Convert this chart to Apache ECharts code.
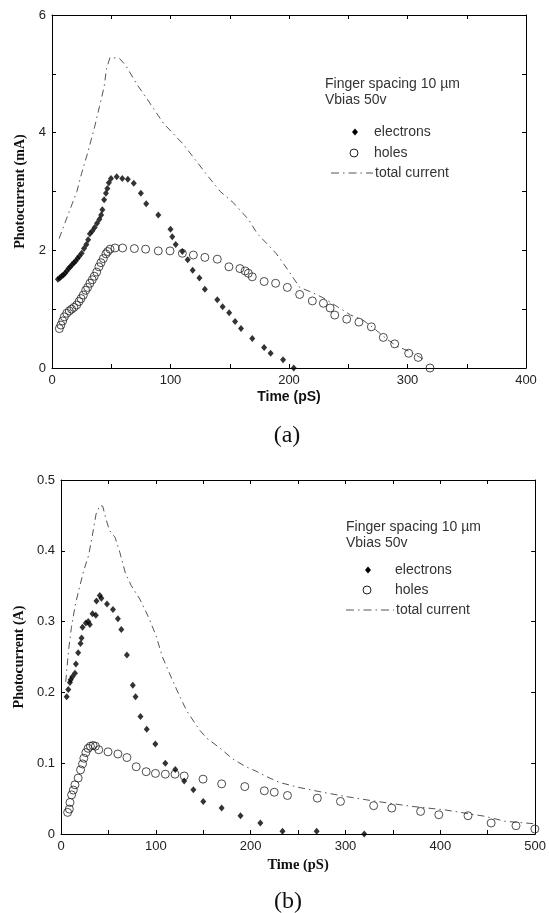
<!DOCTYPE html>
<html>
<head>
<meta charset="utf-8">
<script src="https://cdn.jsdelivr.net/npm/echarts@6/dist/echarts.min.js"></script>
<style>
  html, body { margin: 0; padding: 0; background: #fff; }
  #chart { width: 549px; height: 913px; }
</style>
</head>
<body>
<div id="chart"></div>
<script>
// (a) photocurrent in mA vs time in pS
const electronsA = [[5,1.51],[6.5,1.53],[8,1.56],[9.5,1.58],[11,1.61],[12.5,1.65],[14,1.69],[15.5,1.72],[17,1.76],[18.5,1.79],[20,1.82],[21.5,1.86],[23,1.9],[25,1.95],[27,2.03],[29,2.1],[30.5,2.18],[32,2.28],[34,2.33],[36,2.39],[38,2.46],[40,2.53],[41.5,2.6],[42.5,2.69],[44,2.86],[45.5,2.97],[46.7,3.05],[48,3.15],[49.8,3.22],[54.6,3.25],[59.3,3.22],[64,3.21],[69,3.14],[75,2.97],[79.5,2.79],[89.7,2.6],[100,2.36],[101.5,2.23],[104.4,2.1],[110,1.98],[114.5,1.84],[118.7,1.66],[124.4,1.53],[129,1.34],[139.5,1.16],[144,1.04],[149.5,0.94],[154.5,0.79],[159.5,0.67],[169,0.5],[179,0.35],[184.5,0.25],[195,0.14],[204,0]];
const holesA = [[6.2,0.67],[7.5,0.73],[9,0.8],[10.4,0.87],[12.4,0.93],[14.6,0.97],[16.5,1.0],[18.5,1.03],[20.8,1.07],[22.8,1.13],[24.5,1.18],[26.4,1.24],[28.4,1.32],[30.1,1.37],[32,1.44],[34,1.5],[35.7,1.56],[37.7,1.63],[39.6,1.72],[41.3,1.79],[43.3,1.86],[45.5,1.94],[47,1.98],[49,2.02],[53.2,2.04],[59.6,2.04],[69.5,2.03],[79,2.02],[89.7,1.99],[99.6,1.99],[110,1.95],[119.3,1.92],[129,1.88],[139.5,1.85],[149.3,1.72],[158.6,1.69],[163,1.65],[165.7,1.61],[169,1.55],[179,1.47],[188.7,1.44],[198.6,1.37],[209,1.25],[219.7,1.14],[229,1.1],[234.7,1.02],[238.6,0.9],[248.7,0.83],[259,0.78],[269.5,0.7],[279.6,0.52],[289.2,0.41],[301,0.25],[309,0.18],[319,0]];
const totalA = [[6,2.2],[14,2.63],[21,3.0],[25,3.31],[30,3.65],[36,4.1],[40,4.44],[44,4.78],[46,5.09],[49,5.28],[57,5.26],[62,5.15],[72,4.81],[80,4.58],[94,4.16],[102,3.99],[110,3.82],[119,3.59],[132,3.25],[142,3.0],[153,2.81],[166,2.52],[173,2.29],[181,2.12],[189,1.95],[199,1.67],[209,1.37],[220,1.28],[230,1.18],[241,1.04],[252,0.9],[262,0.82],[272,0.67],[282,0.5],[291,0.37],[303,0.27],[315,0.13]];
const xLabelsA = [0, 100, 200, 300, 400];
const yLabelsA = [0, 2, 4, 6];

// (b) photocurrent in A vs time in pS
const electronsB = [[6,0.194],[7.7,0.204],[9.4,0.214],[10.2,0.218],[12,0.222],[14.7,0.227],[15.7,0.24],[18.1,0.256],[20.6,0.269],[21.7,0.277],[22.7,0.292],[26.2,0.298],[28.7,0.3],[30.4,0.296],[33.2,0.311],[36.7,0.309],[37.4,0.329],[40.9,0.337],[42.6,0.333],[48.5,0.325],[54.8,0.317],[60,0.304],[63.6,0.289],[69.5,0.253],[75.7,0.21],[78.6,0.194],[83.8,0.166],[90.4,0.148],[99.5,0.127],[110,0.1],[120.5,0.091],[129.9,0.075],[139.6,0.0625],[150,0.046],[169.4,0.0366],[189.3,0.0258],[210.2,0.0155],[233.6,0.004],[269.6,0.004],[319.8,0]];
const holesB = [[7,0.0305],[8.8,0.0352],[9.5,0.0446],[11.2,0.0553],[13,0.062],[14.7,0.0695],[18.1,0.079],[20.6,0.0906],[22.7,0.099],[24.1,0.107],[26.2,0.115],[28.6,0.121],[31,0.124],[33.8,0.125],[36.3,0.124],[39.8,0.119],[49.6,0.116],[60,0.113],[69.5,0.108],[79.3,0.095],[89.8,0.088],[99.6,0.0856],[110,0.0845],[120.2,0.0845],[129.9,0.082],[149.8,0.0775],[169.4,0.0708],[193.8,0.067],[214.4,0.061],[224.9,0.059],[238.8,0.0544],[270.3,0.0507],[294.7,0.046],[329.7,0.04],[348.8,0.0366],[379.2,0.0319],[398.4,0.0272],[429.2,0.0258],[453.6,0.0155],[479.8,0.0117],[499.7,0.007]];
const totalB = [[5,0.215],[8,0.26],[11,0.292],[15,0.323],[19,0.346],[24,0.372],[29,0.393],[33,0.421],[37,0.452],[41,0.464],[44,0.463],[47,0.447],[51,0.429],[57,0.419],[62,0.398],[68,0.368],[74,0.351],[83,0.332],[92,0.307],[100,0.281],[107,0.25],[114,0.228],[119,0.213],[126,0.192],[133,0.173],[146,0.147],[154,0.135],[168,0.121],[180,0.107],[195,0.095],[207,0.088],[217,0.081],[230,0.073],[250,0.066],[272,0.06],[300,0.053],[328,0.047],[370,0.039],[405,0.034],[447,0.025],[468,0.018],[499,0.0145]];
const xLabelsB = [0, 100, 200, 300, 400, 500];
const yLabelsB = [0, 0.1, 0.2, 0.3, 0.4, 0.5];

const SANS = '"Liberation Sans", Arial, sans-serif';
const SERIF = '"Liberation Serif", "Times New Roman", serif';
const INK = '#222';
const CURVE = '#555';
const DASHDOT = [7, 4, 1.5, 4];

function near(v, list) {
  return list.some(t => Math.abs(t - v) < 1e-6);
}

function boxAxis(gridIndex, min, max, interval, position, labels, fmt, extra) {
  const base = {
    gridIndex, type: 'value', min, max, interval, position,
    axisLine: { show: true, onZero: false, lineStyle: { color: '#000', width: 1 } },
    axisTick: { show: true, inside: true, length: 4, lineStyle: { color: '#000', width: 1 } },
    splitLine: { show: false },
    axisLabel: labels ? {
      show: true, margin: 6, color: INK, fontFamily: SANS, fontSize: 13,
      formatter: v => near(v, labels) ? fmt(v) : ''
    } : { show: false }
  };
  return Object.assign(base, extra || {});
}

const fmtInt = v => String(Math.round(v));
const fmtTenth = v => (Math.abs(v) < 1e-9 ? '0' : v.toFixed(1));

function legendBlock(x0, yTitle, markerX, textX, yRows, lineX1) {
  const font = '14px ' + SANS;
  const txt = (x, y, s) => ({ type: 'text', x, y, silent: true,
    style: { text: s, font, fill: '#333', align: 'left', verticalAlign: 'middle' } });
  return [
    txt(x0, yTitle, 'Finger spacing 10 µm'),
    txt(x0, yTitle + 16, 'Vbias 50v'),
    { type: 'polygon', silent: true,
      shape: { points: [[markerX, yRows[0] - 3.5], [markerX + 3, yRows[0]], [markerX, yRows[0] + 3.5], [markerX - 3, yRows[0]]] },
      style: { fill: '#000' } },
    txt(textX, yRows[0], 'electrons'),
    { type: 'circle', silent: true, shape: { cx: markerX - 1, cy: yRows[1], r: 4 },
      style: { fill: 'none', stroke: INK, lineWidth: 1 } },
    txt(textX, yRows[1], 'holes'),
    { type: 'line', silent: true, shape: { x1: lineX1, y1: yRows[2], x2: textX - 1, y2: yRows[2] },
      style: { stroke: CURVE, lineWidth: 1, lineDash: [8, 4, 1.5, 4] } },
    txt(textX + 1, yRows[2], 'total current')
  ];
}

const chart = echarts.init(document.getElementById('chart'), null, { renderer: 'canvas' });

chart.setOption({
  animation: false,
  backgroundColor: '#fff',
  grid: [
    { left: 52, top: 15, width: 474, height: 353 },
    { left: 61, top: 480, width: 477, height: 354 }
  ],
  xAxis: [
    boxAxis(0, 0, 400, 50, 'bottom', xLabelsA, fmtInt, {
      name: 'Time (pS)', nameLocation: 'middle', nameGap: 22,
      nameTextStyle: { fontFamily: SANS, fontWeight: 'bold', fontSize: 14, color: '#111' }
    }),
    boxAxis(0, 0, 400, 50, 'top', null),
    boxAxis(1, 0, 500, 50, 'bottom', xLabelsB, fmtInt, {
      name: 'Time (pS)', nameLocation: 'middle', nameGap: 24,
      nameTextStyle: { fontFamily: SERIF, fontWeight: 'bold', fontSize: 14.5, color: '#111' }
    }),
    boxAxis(1, 0, 500, 50, 'top', null)
  ],
  yAxis: [
    boxAxis(0, 0, 6, 1, 'left', yLabelsA, fmtInt, {
      name: 'Photocurrent (mA)', nameLocation: 'middle', nameGap: 20,
      nameTextStyle: { fontFamily: SERIF, fontWeight: 'bold', fontSize: 14, color: '#111' }
    }),
    boxAxis(0, 0, 6, 1, 'right', null),
    boxAxis(1, 0, 0.5, 0.1, 'left', yLabelsB, fmtTenth, {
      name: 'Photocurrent (A)', nameLocation: 'middle', nameGap: 34,
      nameTextStyle: { fontFamily: SERIF, fontWeight: 'bold', fontSize: 14, color: '#111' }
    }),
    boxAxis(1, 0, 0.5, 0.1, 'right', null)
  ],
  series: [
    { type: 'line', xAxisIndex: 0, yAxisIndex: 0, data: totalA, showSymbol: false, symbol: 'none',
      lineStyle: { color: CURVE, width: 1, type: DASHDOT }, z: 1 },
    { type: 'scatter', xAxisIndex: 0, yAxisIndex: 0, data: holesA, symbol: 'circle', symbolSize: 8, clip: false,
      itemStyle: { color: 'rgba(0,0,0,0)', borderColor: INK, borderWidth: 1 }, z: 2 },
    { type: 'scatter', xAxisIndex: 0, yAxisIndex: 0, data: electronsA, symbol: 'diamond', symbolSize: [6, 7], clip: false,
      itemStyle: { color: '#000' }, z: 3 },

    { type: 'line', xAxisIndex: 2, yAxisIndex: 2, data: totalB, showSymbol: false, symbol: 'none',
      lineStyle: { color: CURVE, width: 1, type: DASHDOT }, z: 1 },
    { type: 'scatter', xAxisIndex: 2, yAxisIndex: 2, data: holesB, symbol: 'circle', symbolSize: 8, clip: false,
      itemStyle: { color: 'rgba(0,0,0,0)', borderColor: INK, borderWidth: 1 }, z: 2 },
    { type: 'scatter', xAxisIndex: 2, yAxisIndex: 2, data: electronsB, symbol: 'diamond', symbolSize: [6, 7], clip: false,
      itemStyle: { color: '#000' }, z: 3 }
  ],
  graphic: [
    ...legendBlock(325, 84, 355, 374, [132, 153, 173], 331),
    ...legendBlock(346, 527, 368, 395, [570, 590, 610], 346),
    { type: 'text', x: 287, y: 436, silent: true,
      style: { text: '(a)', font: '24px ' + SERIF, fill: '#111', align: 'center', verticalAlign: 'middle' } },
    { type: 'text', x: 288, y: 902, silent: true,
      style: { text: '(b)', font: '24px ' + SERIF, fill: '#111', align: 'center', verticalAlign: 'middle' } }
  ]
});
</script>
</body>
</html>
